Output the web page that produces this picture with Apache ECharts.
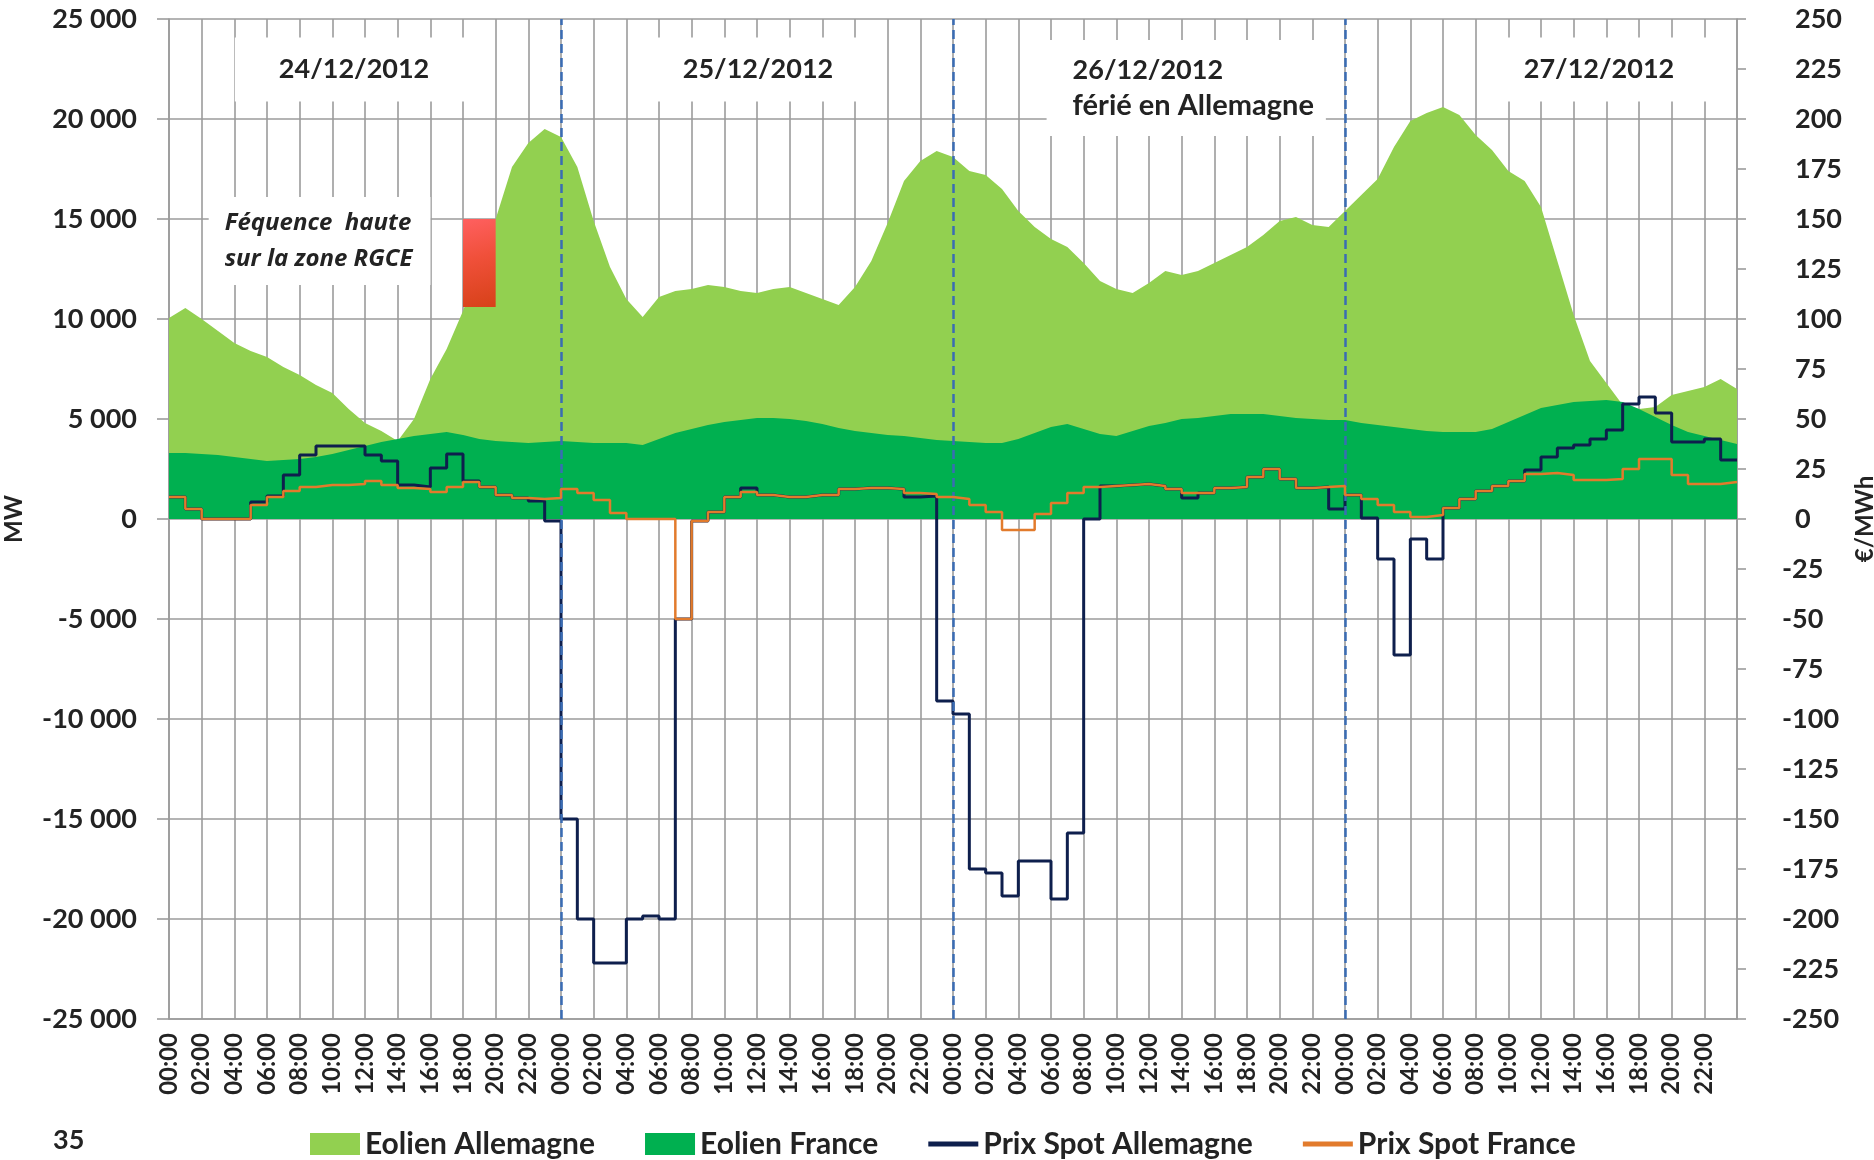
<!DOCTYPE html>
<html>
<head>
<meta charset="utf-8">
<script src="https://cdn.jsdelivr.net/npm/echarts@6/dist/echarts.min.js"></script>
<style>
  html, body { margin: 0; padding: 0; background: #fff; }
  #chart { width: 1874px; height: 1160px; }
</style>
</head>
<body>
<div id="chart"></div>
<script>
// ---- Data (hourly, 24/12/2012 00:00 -> 28/12/2012 00:00) ----
const hourLabels = ['00:00','02:00','04:00','06:00','08:00','10:00','12:00','14:00','16:00','18:00','20:00','22:00'];
const dayBoundaries = [24, 48, 72];

// Eolien Allemagne (MW), hours 0..96
const eolienAllemagne = [
  10050, 10550, 10000, 9400, 8800, 8400, 8100, 7600, 7200, 6700, 6300, 5500, 4800, 4400, 3900, 5000, 7000, 8500, 10400, 12700, 15000, 17600, 18800, 19500,
  19100, 17600, 14900, 12600, 11000, 10100, 11100, 11400, 11500, 11700, 11600, 11400, 11300, 11500, 11600, 11300, 11000, 10700, 11600, 12900, 14800, 16900, 17900, 18400,
  18100, 17400, 17200, 16500, 15400, 14600, 14000, 13600, 12800, 11900, 11500, 11300, 11800, 12400, 12200, 12400, 12800, 13200, 13600, 14200, 14900, 15100, 14700, 14600,
  15400, 16200, 17000, 18600, 19900, 20300, 20600, 20200, 19200, 18450, 17400, 16900, 15600, 12900, 10200, 7900, 6800, 5700, 5500, 5600, 6200, 6400, 6600, 7000, 6500
];

// Eolien France (MW), hours 0..96
const eolienFrance = [
  3300, 3300, 3250, 3200, 3100, 3000, 2900, 2950, 3000, 3100, 3250, 3450, 3650, 3850, 4000, 4150, 4250, 4350, 4200, 4000, 3900, 3850, 3800, 3850,
  3900, 3850, 3800, 3800, 3800, 3700, 4000, 4300, 4500, 4700, 4850, 4950, 5050, 5050, 5000, 4900, 4750, 4550, 4400, 4300, 4200, 4150, 4050, 3950,
  3900, 3850, 3800, 3800, 4000, 4300, 4600, 4750, 4500, 4250, 4150, 4400, 4650, 4800, 5000, 5050, 5150, 5250, 5250, 5250, 5150, 5050, 5000, 4950,
  4950, 4800, 4700, 4600, 4500, 4400, 4350, 4350, 4350, 4500, 4850, 5200, 5550, 5700, 5850, 5900, 5950, 5850, 5500, 5100, 4700, 4350, 4150, 3950, 3750
];

// Prix Spot Allemagne (EUR/MWh), hour h applies to [h, h+1], h = 0..95
const prixAllemagne = [
  11, 5, 0, 0, 0, 8.5, 11.5, 22, 32, 36.5, 36.5, 36.5, 32, 29, 17, 16, 25.5, 32.5, 19, 16, 12, 10.5, 9, -1,
  -150, -200, -222, -222, -200, -198.5, -200, -50, -1, 3.5, 11, 15.5, 12, 11, 11, 12, 12, 15, 15.5, 15.5, 15, 11, 11.5, -91,
  -97.5, -175, -177, -188.5, -171, -171, -190, -157, 0, 16.5, 17, 17.5, 16.5, 15, 10.5, 13, 15.5, 16, 21, 25, 20, 15.5, 16, 5,
  12, 0.5, -20, -68, -10, -20, 5.5, 10, 14, 16.5, 19, 24.5, 31, 35.5, 37, 40, 44.5, 57.5, 61, 53, 38.5, 38.5, 40, 29.5
];

// Prix Spot France (EUR/MWh), h = 0..95
const prixFrance = [
  11, 5, 0, 0, 0, 7, 11, 14, 16, 17, 17, 17.5, 19, 17, 15.5, 15, 13.5, 16, 18.5, 16, 12, 10.5, 10, 10.5,
  15, 13, 9.5, 3, 0, 0, 0, -50, -1, 3.5, 11, 13.5, 12, 11, 11, 12, 12, 15, 15.5, 15.5, 15, 13, 12.5, 11,
  10, 7, 3.5, -5.5, -5.5, 2.5, 8, 13, 16, 16.5, 17, 17.5, 16.5, 15, 13, 13, 15.5, 16, 21, 25, 20, 15.5, 16, 16.5,
  12, 10, 7, 3.5, 1, 2, 5.5, 10, 14, 16.5, 19, 22.5, 23, 22, 19.5, 19.5, 20, 25, 30, 30, 22, 17.5, 17.5, 18.5
];

// High-frequency window on RGCE zone: [hourStart, MWtop, hourEnd, MWbottom]
const freqWindow = [[18, 15000, 20, 10600]];

const dateLabels = ['24/12/2012', '25/12/2012', '26/12/2012', '27/12/2012'];
const holidayLabel = 'férié en Allemagne';
const freqLabel = 'Féquence  haute\nsur la zone RGCE';

// ---- Build ----
const FONT = 'Lato';
const TXT = '#232323';
const GRID = '#9b9b9b';

function hourPairs(arr) { return arr.map((v, i) => [i, v]); }
function stepPairs(arr) {
  const d = arr.map((v, i) => [i, v]);
  d.push([arr.length, arr[arr.length - 1]]);
  return d;
}
function fmtMW(v) {
  const s = Math.abs(v).toString().replace(/\B(?=(\d{3})+(?!\d))/g, ' ');
  return (v < 0 ? '-' : '') + s;
}

const chart = echarts.init(document.getElementById('chart'), null, { renderer: 'canvas' });

const dateBox = {
  show: true, position: 'inside', color: TXT, fontFamily: FONT, fontWeight: 'bold',
  fontSize: 27, lineHeight: 30, backgroundColor: '#fff', padding: [17, 44]
};
const hidden = { symbol: 'rect', symbolSize: 1, itemStyle: { color: 'rgba(0,0,0,0)' } };
const axisFont = { fontFamily: FONT, fontWeight: 'bold', fontSize: 27, color: TXT };

const option = {
  animation: false,
  backgroundColor: '#fff',
  title: {
    text: '35', left: 48, top: 1122,
    textStyle: { fontFamily: FONT, fontWeight: 'bold', fontSize: 27, color: TXT }
  },
  grid: { left: 169, right: 137, top: 19, bottom: 141, containLabel: false, outerBoundsMode: 'none' },
  legend: {
    left: 305, top: 1124, itemWidth: 50, itemHeight: 22, itemGap: 50,
    textStyle: { fontFamily: FONT, fontWeight: 'bold', fontSize: 30, color: TXT },
    data: [
      { name: 'Eolien Allemagne', icon: 'rect' },
      { name: 'Eolien France', icon: 'rect' },
      { name: 'Prix Spot Allemagne', icon: 'path://M0,0H50V5H0Z' },
      { name: 'Prix Spot France', icon: 'path://M0,0H50V5H0Z' }
    ]
  },
  xAxis: {
    type: 'value', min: 0, max: 96, interval: 2,
    axisLine: { show: true, onZero: false, lineStyle: { color: GRID, width: 1.6 } },
    axisTick: { show: false },
    splitLine: { show: true, lineStyle: { color: GRID, width: 1.6 } },
    axisLabel: {
      rotate: 90, margin: 14, fontFamily: FONT, fontWeight: 'bold', fontSize: 24, color: TXT,
      formatter: function (v) { return v >= 96 ? '' : hourLabels[Math.round(v / 2) % 12]; }
    }
  },
  yAxis: [
    {
      type: 'value', min: -25000, max: 25000, interval: 5000, position: 'left',
      name: 'MW', nameLocation: 'middle', nameRotate: 90, nameGap: 143,
      nameTextStyle: { fontFamily: FONT, fontWeight: 'bold', fontSize: 24, color: TXT },
      axisLine: { show: true, lineStyle: { color: GRID, width: 1.6 } },
      axisTick: { show: true, length: 12, lineStyle: { color: GRID, width: 1.6 } },
      splitLine: { show: true, lineStyle: { color: GRID, width: 1.6 } },
      axisLabel: Object.assign({ margin: 32, formatter: fmtMW }, axisFont)
    },
    {
      type: 'value', min: -250, max: 250, interval: 25, position: 'right',
      name: '€/MWh', nameLocation: 'middle', nameRotate: 90, nameGap: 104,
      nameTextStyle: { fontFamily: FONT, fontWeight: 'bold', fontSize: 24, color: TXT },
      axisLine: { show: true, lineStyle: { color: GRID, width: 1.6 } },
      axisTick: { show: true, length: 9, lineStyle: { color: GRID, width: 1.6 } },
      splitLine: { show: false },
      axisLabel: Object.assign({
        margin: 45,
        formatter: function (v) { return v < 0 ? String(v) : '{p|' + v + '}'; },
        rich: { p: Object.assign({ padding: [0, 0, 0, 13] }, axisFont) }
      }, axisFont)
    }
  ],
  series: [
    {
      name: 'Eolien Allemagne', type: 'line', xAxisIndex: 0, yAxisIndex: 0,
      data: hourPairs(eolienAllemagne), symbol: 'none', color: '#92d050',
      lineStyle: { width: 0 }, areaStyle: { color: '#92d050', opacity: 1 }, z: 2
    },
    {
      name: 'Eolien France', type: 'line', xAxisIndex: 0, yAxisIndex: 0,
      data: hourPairs(eolienFrance), symbol: 'none', color: '#00b050',
      lineStyle: { width: 0 }, areaStyle: { color: '#00b050', opacity: 1 }, z: 3
    },
    {
      name: 'Prix Spot Allemagne', type: 'line', xAxisIndex: 0, yAxisIndex: 1,
      data: stepPairs(prixAllemagne), step: 'end', symbol: 'none', color: '#0e1f4d',
      lineStyle: { width: 3, color: '#0e1f4d' }, z: 4
    },
    {
      name: 'Prix Spot France', type: 'line', xAxisIndex: 0, yAxisIndex: 1,
      data: stepPairs(prixFrance), step: 'end', symbol: 'none', color: '#e27b2c',
      lineStyle: { width: 2.5, color: '#e27b2c' }, z: 5
    },
    {
      name: 'freq', type: 'custom', xAxisIndex: 0, yAxisIndex: 0, z: 8, silent: true,
      data: freqWindow,
      encode: { x: [0, 2], y: [1, 3] },
      renderItem: function (params, api) {
        const p1 = api.coord([api.value(0), api.value(1)]);
        const p2 = api.coord([api.value(2), api.value(3)]);
        return {
          type: 'rect',
          shape: { x: p1[0], y: p1[1], width: p2[0] - p1[0], height: p2[1] - p1[1] },
          style: {
            fill: new echarts.graphic.LinearGradient(0, 0, 0.7, 1, [
              { offset: 0, color: '#ff6060' },
              { offset: 0.45, color: '#f0503a' },
              { offset: 1, color: '#d8421a' }
            ])
          }
        };
      }
    },
    {
      name: 'annotations', type: 'line', xAxisIndex: 0, yAxisIndex: 0, data: [], silent: true, z: 9,
      markLine: {
        silent: true, symbol: ['none', 'none'], label: { show: false },
        lineStyle: { color: '#3a6cb4', width: 2.5, type: [9, 5] },
        data: dayBoundaries.map(h => ({ xAxis: h }))
      },
      markPoint: {
        silent: true,
        data: [
          Object.assign({ coord: [11.33, 22475], label: Object.assign({}, dateBox, { formatter: dateLabels[0] }) }, hidden),
          Object.assign({ coord: [36.06, 22475], label: Object.assign({}, dateBox, { formatter: dateLabels[1] }) }, hidden),
          Object.assign({ coord: [53.7, 21550], label: Object.assign({}, dateBox, {
              position: 'right', distance: 0, align: 'left', padding: [12, 12, 12, 26],
              formatter: '{a|' + dateLabels[2] + '}\n{b|' + holidayLabel + '}',
              rich: {
                a: { fontFamily: FONT, fontWeight: 'bold', fontSize: 27, lineHeight: 36, color: TXT },
                b: { fontFamily: FONT, fontWeight: 'bold', fontSize: 29, lineHeight: 36, color: TXT }
              } }) }, hidden),
          Object.assign({ coord: [87.55, 22475], label: Object.assign({}, dateBox, { formatter: dateLabels[3] }) }, hidden),
          Object.assign({ coord: [2.4, 13900], label: {
              show: true, position: 'right', distance: 0, align: 'left', formatter: freqLabel,
              color: TXT, fontFamily: 'Open Sans', fontWeight: 'bold', fontStyle: 'italic', fontSize: 24, lineHeight: 36,
              backgroundColor: '#fff', padding: [8, 18, 8, 16] } }, hidden)
        ]
      }
    }
  ]
};

chart.setOption(option);
</script>
</body>
</html>
